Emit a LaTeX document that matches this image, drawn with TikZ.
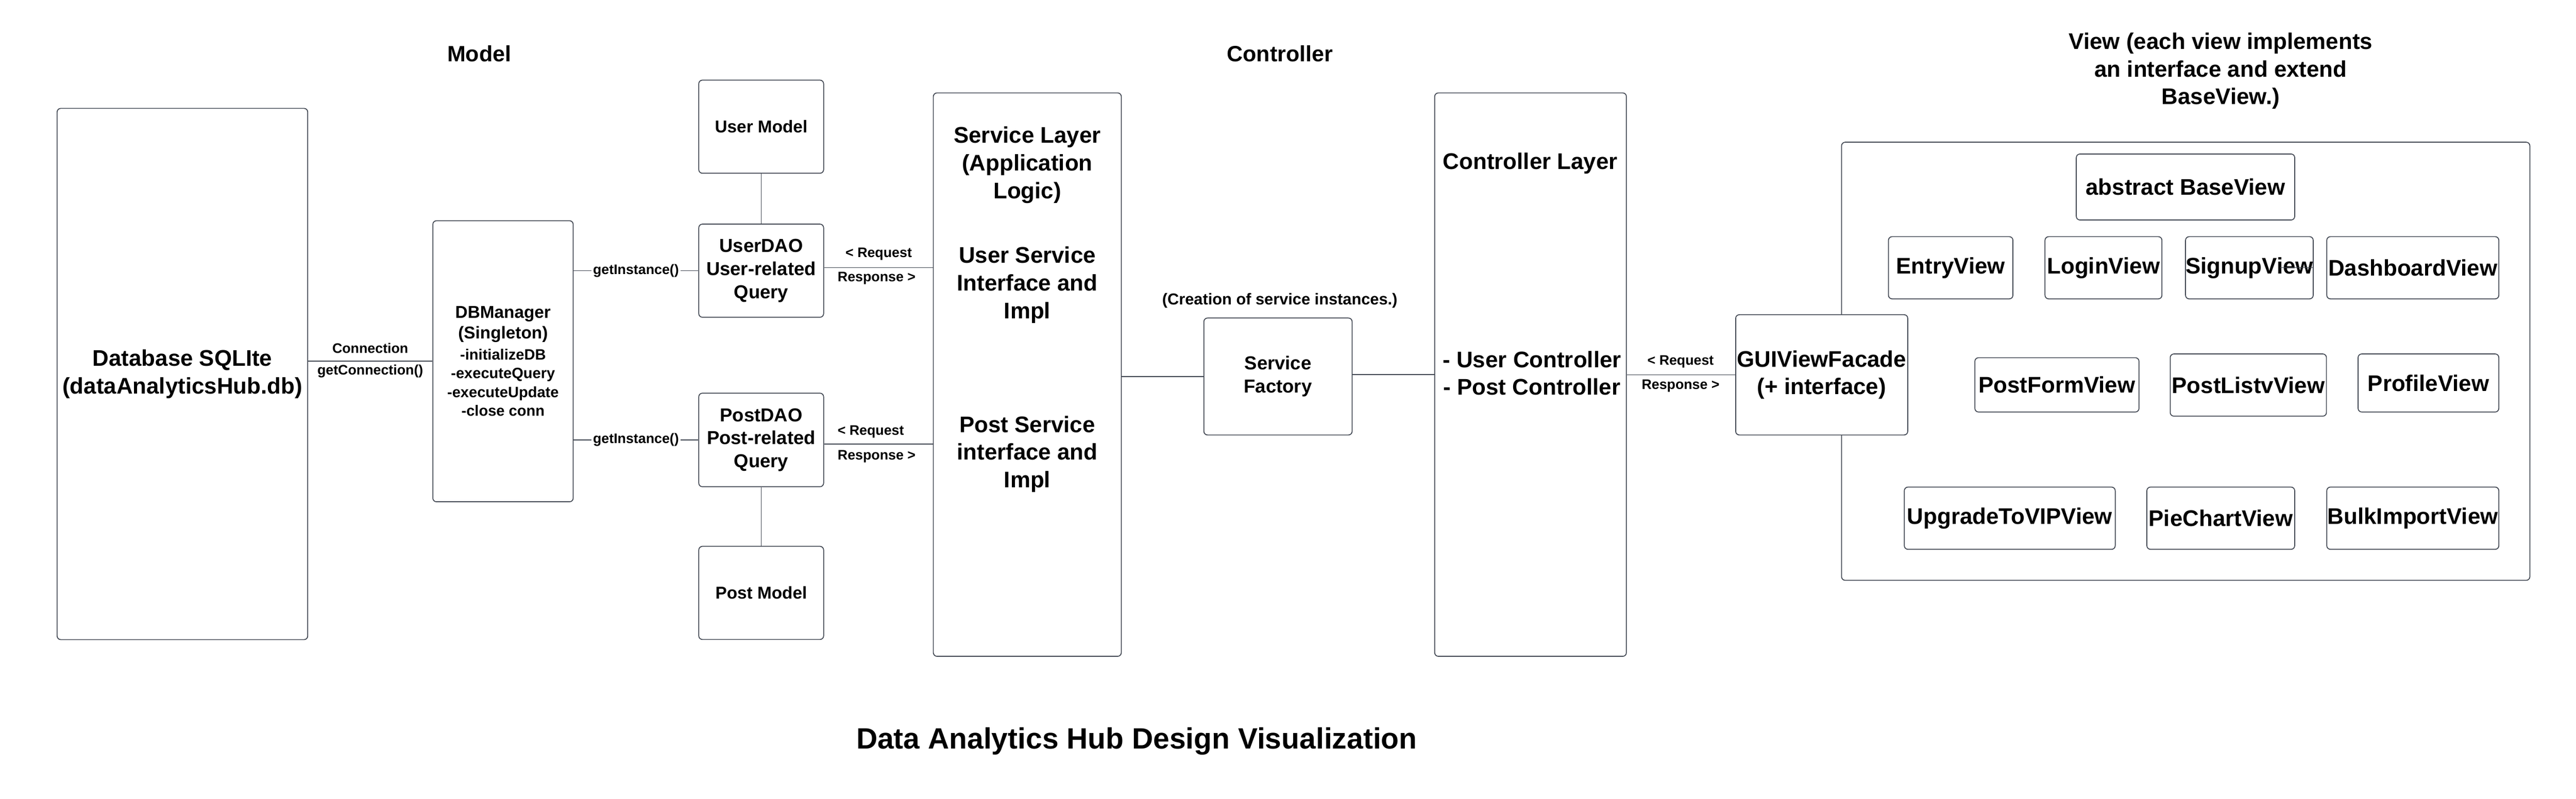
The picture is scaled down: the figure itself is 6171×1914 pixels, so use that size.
\documentclass[tikz,border=0pt]{standalone}
\usepackage{fontspec}
\setmainfont{Liberation Sans}
\usetikzlibrary{calc}
\definecolor{linec}{HTML}{3F4550}
\newcommand\fszBig{\fontsize{15.4}{18.9}\selectfont}
\newcommand\fszMid{\fontsize{12.8}{15.7}\selectfont}
\newcommand\fszSm{\fontsize{11.7}{14.2}\selectfont}
\newcommand\fszXs{\fontsize{10.2}{12.8}\selectfont}
\newcommand\fszLab{\fontsize{9.4}{11}\selectfont}
\newcommand\fszNote{\fontsize{10.8}{13}\selectfont}
\newcommand\fszTitle{\fontsize{20}{24}\selectfont}
\begin{document}
\begin{tikzpicture}[x=0.01cm,y=-0.01cm,
  box/.style={draw=linec,line width=0.6pt,rounded corners=2.5pt,fill=white,inner sep=0pt,align=center,font=\bfseries\fszBig},
  wire/.style={draw=linec,line width=0.6pt},
  lab/.style={font=\bfseries\fszLab,inner sep=1pt},
  wlab/.style={font=\bfseries\fszLab,inner sep=1pt,fill=white},
  txt/.style={font=\bfseries\fszBig,align=center,inner sep=0pt},
  head/.style={font=\bfseries\fontsize{15.1}{18.6}\selectfont,align=center,inner sep=0pt},
]
\useasboundingbox (0,0) rectangle (6171,1914);

% headings
\node[head] (hmodel) at (1148,128) {Model};
\node[head] (hctl) at (3066,128) {Controller};
\node[txt] (hview) at (5320,170) {View (each view implements\\an interface and extend\\BaseView.)};
\node[inner sep=0pt,font=\bfseries\fszTitle] (title) at (2723,1776) {Data Analytics Hub Design Visualization};

% model
\node[box,minimum width=6cm,minimum height=12.72cm] (db) at (437,896) {Database SQLIte\\(dataAnalyticsHub.db)};
\node[box,minimum width=3.36cm,minimum height=6.73cm,font=\bfseries\fszXs] (dbm) at (1205,865.5)
  {\fszSm DBManager\\[1.4pt]\fszSm (Singleton)\\[1.4pt]\fszXs -initializeDB\\\fszXs -executeQuery\\\fszXs -executeUpdate\\\fszXs -close conn};
\node[box,minimum width=2.99cm,minimum height=2.23cm,font=\bfseries\fszSm] (um) at (1823.5,303.5) {User Model};
\node[box,minimum width=2.99cm,minimum height=2.23cm,font=\bfseries\fszMid] (udao) at (1823.5,648.5) {UserDAO\\User-related\\Query};
\node[box,minimum width=2.99cm,minimum height=2.24cm,font=\bfseries\fszMid] (pdao) at (1823.5,1054) {PostDAO\\Post-related\\Query};
\node[box,minimum width=2.99cm,minimum height=2.23cm,font=\bfseries\fszSm] (pm) at (1823.5,1420.5) {Post Model};

% controller
\node[box,minimum width=4.5cm,minimum height=13.49cm] (svc) at (2461,897.5) {};
\node[txt] (svct1) at (2461,395) {Service Layer\\(Application\\Logic)};
\node[txt] (svct2) at (2461,683) {User Service\\Interface and\\Impl};
\node[txt] (svct3) at (2461,1088) {Post Service\\interface and\\Impl};
\node[box,minimum width=3.55cm,minimum height=2.8cm,font=\bfseries\fszMid] (sf) at (3061.5,902) {Service\\Factory};
\node[inner sep=0pt,font=\bfseries\fszNote] (sfnote) at (3066,720) {(Creation of service instances.)};
\node[box,minimum width=4.59cm,minimum height=13.49cm] (ctl) at (3666.5,897.5) {};
\node[txt] (ctlt1) at (3666,391) {Controller Layer};
\node[txt] (ctlt2) at (3670,894) {- User Controller\\- Post Controller};

% view
\node[box,minimum width=16.48cm,minimum height=10.49cm] (vc) at (5236,865.5) {};
\node[box,minimum width=4.12cm,minimum height=2.88cm] (gui) at (4364,898) {GUIViewFacade\\(+ interface)};
\node[box,minimum width=5.23cm,minimum height=1.58cm] (base) at (5235.5,448) {abstract BaseView};
\node[box,minimum width=2.98cm,minimum height=1.49cm] (entry) at (4673,641.5) {EntryView};
\node[box,minimum width=2.8cm,minimum height=1.49cm] (login) at (5039,641.5) {LoginView};
\node[box,minimum width=3.03cm,minimum height=1.49cm] (signup) at (5388.5,641.5) {SignupView};
\node[box,minimum width=4.12cm,minimum height=1.49cm] (dash) at (5780,641.5) {DashboardView};
\node[box,minimum width=3.93cm,minimum height=1.3cm] (pform) at (4927.5,922) {PostFormView};
\node[box,minimum width=3.74cm,minimum height=1.49cm] (plist) at (5386,922.5) {PostListvView};
\node[box,minimum width=3.37cm,minimum height=1.39cm] (prof) at (5817.5,917.5) {ProfileView};
\node[box,minimum width=5.05cm,minimum height=1.49cm] (upg) at (4814.5,1241.5) {UpgradeToVIPView};
\node[box,minimum width=3.54cm,minimum height=1.49cm] (pie) at (5320,1241.5) {PieChartView};
\node[box,minimum width=4.12cm,minimum height=1.49cm] (bulk) at (5780,1241.5) {BulkImportView};
\coordinate (sg1) at (5462,641);
\draw[wire] (sg1) -- ++(81,0);

% connectors
\draw[wire] (db.east |- dbm.west) -- (dbm.west);
\node[lab] (lconn) at (887,834) {Connection};
\node[lab] (lgetc) at (887,889) {getConnection()};
\draw[wire] (dbm.east |- udao.west) -- node[wlab] (gi1) {getInstance()} (udao.west);
\draw[wire] (dbm.east |- pdao.west) -- node[wlab] (gi2) {getInstance()} (pdao.west);
\draw[wire] (um) -- (udao);
\draw[wire] (pdao) -- (pm);
\coordinate (rq1) at (0,641);
\coordinate (rq2) at (0,1064);
\draw[wire] (udao.east |- rq1) -- (svc.west |- rq1);
\draw[wire] (pdao.east |- rq2) -- (svc.west |- rq2);
\node[lab] (rqa) at (2105,608) {< Request};
\node[lab] (rsa) at (2100,667) {Response >};
\node[lab] (rqb) at (2086,1034) {< Request};
\node[lab] (rsb) at (2100,1093) {Response >};
\draw[wire] (svc.east |- sf.west) -- (sf.west);
\draw[wire] (sf.east |- ctl.west) -- (ctl.west);
\draw[wire] (ctl.east |- gui.west) -- (gui.west);
\node[lab] (rqc) at (4026,867) {< Request};
\node[lab] (rsc) at (4026,924) {Response >};
\end{tikzpicture}
\end{document}
